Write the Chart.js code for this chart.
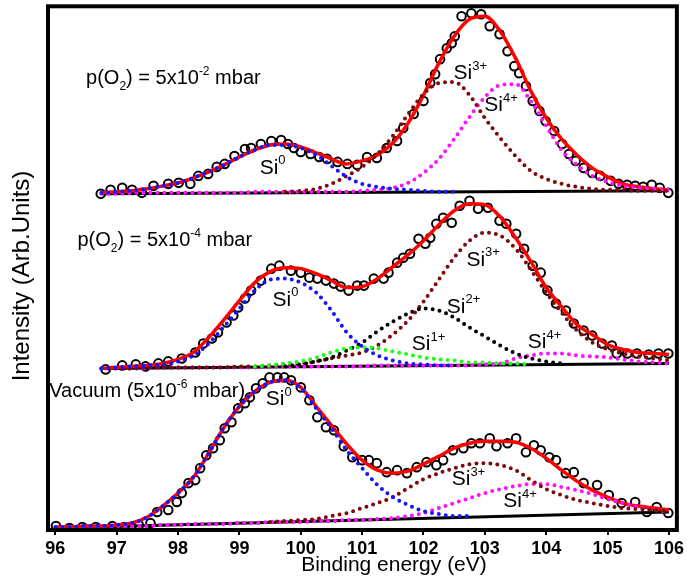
<!DOCTYPE html>
<html>
<head>
<meta charset="utf-8">
<script src="https://cdn.jsdelivr.net/npm/chart.js@4.4.1/dist/chart.umd.min.js"></script>
<style>
  html, body { margin: 0; padding: 0; background: #fff; }
</style>
</head>
<body>
<canvas id="xps" width="687" height="578"></canvas>
<script>
// Si 2p XPS spectra, three oxygen pressures (intensity in arbitrary units, stacked)
const xTicks = [96, 97, 98, 99, 100, 101, 102, 103, 104, 105, 106];

// measured points, p(O2) = 5x10^-2 mbar
const topE = [96.74, 96.90, 97.09, 97.25, 97.41, 97.60, 97.84, 98.01, 98.20, 98.33, 98.49, 98.63, 98.76, 98.92, 99.09, 99.19, 99.35, 99.52, 99.68, 99.79, 99.89, 100.00, 100.16, 100.30, 100.43, 100.60, 100.76, 100.92, 101.08, 101.24, 101.40, 101.57, 101.67, 101.84, 102.00, 102.11, 102.19, 102.27, 102.38, 102.46, 102.51, 102.62, 102.78, 102.94, 103.08, 103.24, 103.37, 103.48, 103.56, 103.67, 103.78, 103.89, 103.99, 104.13, 104.26, 104.37, 104.48, 104.61, 104.75, 104.88, 105.05, 105.18, 105.32, 105.45, 105.58, 105.72, 105.85, 105.99];
const topI = [337, 341, 343, 341, 338, 345, 347, 348, 347, 355, 357, 364, 367, 375, 382, 383, 387, 390, 391, 387, 383, 379, 377, 374, 372, 369, 367, 366, 374, 373, 383, 390, 403, 417, 430, 448, 457, 472, 483, 488, 495, 515, 518, 517, 505, 497, 480, 465, 458, 445, 430, 420, 410, 400, 387, 377, 370, 363, 358, 355, 350, 347, 346, 345, 344, 346, 343, 338];

// measured points, p(O2) = 5x10^-4 mbar
const midE = [96.82, 97.09, 97.31, 97.47, 97.68, 97.84, 98.06, 98.28, 98.41, 98.55, 98.65, 98.79, 98.90, 98.98, 99.09, 99.19, 99.35, 99.52, 99.65, 99.84, 100.00, 100.14, 100.27, 100.41, 100.54, 100.65, 100.78, 100.92, 101.03, 101.19, 101.35, 101.43, 101.57, 101.67, 101.78, 101.92, 102.03, 102.11, 102.21, 102.32, 102.46, 102.59, 102.75, 102.89, 103.05, 103.24, 103.35, 103.51, 103.64, 103.78, 103.91, 104.02, 104.16, 104.32, 104.45, 104.61, 104.75, 104.91, 105.07, 105.15, 105.32, 105.48, 105.67, 105.83, 105.99];
const midI = [161, 165, 166, 164, 167, 169, 172, 178, 187, 192, 198, 208, 215, 223, 232, 240, 250, 262, 265, 260, 258, 253, 252, 250, 247, 244, 240, 245, 245, 252, 252, 258, 268, 273, 277, 292, 287, 293, 307, 313, 308, 325, 330, 322, 323, 310, 307, 297, 282, 265, 258, 240, 227, 220, 207, 200, 195, 187, 185, 177, 177, 177, 176, 177, 177];

// measured points, vacuum (5x10^-6 mbar)
const botE = [96.01, 96.23, 96.44, 96.66, 96.93, 97.12, 97.36, 97.55, 97.66, 97.84, 97.98, 98.06, 98.17, 98.28, 98.36, 98.46, 98.57, 98.68, 98.76, 98.87, 98.98, 99.09, 99.17, 99.27, 99.38, 99.49, 99.62, 99.73, 99.84, 100.00, 100.14, 100.27, 100.41, 100.54, 100.70, 100.84, 101.00, 101.11, 101.24, 101.40, 101.57, 101.73, 101.89, 102.05, 102.21, 102.32, 102.48, 102.65, 102.78, 102.92, 103.08, 103.19, 103.37, 103.51, 103.67, 103.80, 103.91, 104.05, 104.16, 104.32, 104.45, 104.61, 104.83, 105.02, 105.23, 105.45, 105.64, 105.80, 105.99];
const botI = [4, 2, 3, 3, 4, 3, 5, 7, 18, 20, 28, 37, 47, 50, 62, 75, 82, 90, 102, 108, 122, 127, 133, 142, 147, 153, 153, 153, 150, 143, 130, 113, 103, 100, 84, 73, 70, 70, 67, 58, 60, 57, 63, 68, 65, 70, 80, 82, 87, 87, 92, 84, 87, 92, 78, 85, 80, 73, 70, 57, 58, 47, 45, 35, 27, 28, 18, 23, 17];

// fitted curves, all on the same energy grid
const fitE = [96, 96.25, 96.5, 96.75, 97, 97.25, 97.5, 97.75, 98, 98.25, 98.5, 98.75, 99, 99.25, 99.5, 99.75, 100, 100.25, 100.5, 100.75, 101, 101.25, 101.5, 101.75, 102, 102.25, 102.5, 102.75, 103, 103.25, 103.5, 103.75, 104, 104.25, 104.5, 104.75, 105, 105.25, 105.5, 105.75, 106];

const topFit = [null, null, null, 338, 339, 340, 342, 345, 348, 353, 359, 366, 374, 381, 386, 387, 384, 378, 372, 367, 370, 376, 388, 408, 436, 468, 495, 512, 515, 500, 473, 440, 413, 392, 376, 363, 354, 347, 344, 342, 341];
const topSi0 = [null, null, null, 338, 339, 340, 342, 345, 348, 353, 359, 366, 374, 381, 386, 386, 383, 376, 365, 354, 347, 344, 342, 341, 340, 339, 339, null, null, null, null, null, null, null, null, null, null, null, null, null, null];
const topSi3 = [null, null, null, null, null, null, null, null, null, null, null, null, null, null, null, 339, 340, 342, 347, 355, 364, 377, 395, 417, 437, 448, 449, 436, 413, 393, 375, 360, 352, 347, 344, 342, 341, 341, 340, 340, 340];
const topSi4 = [null, null, null, 337, 337, 338, 338, 338, 338, 338, 338, 338, 338, 339, 339, 339, 339, 339, 339, 339, 340, 341, 343, 348, 358, 372, 392, 414, 434, 446, 447, 430, 405, 381, 366, 355, 349, 345, 343, 342, 341];
const topBgE = [96.75, 106];
const topBg = [337, 340];

const midFit = [null, null, null, 162, 163, 164, 165, 167, 171, 178, 193, 211, 230, 248, 259, 263, 262, 257, 250, 243, 244, 252, 264, 276, 290, 306, 320, 327, 326, 314, 293, 269, 243, 224, 206, 196, 186, 181, 178, 177, 176];
const midSi0 = [null, null, null, 162, 163, 164, 165, 166, 169, 175, 187, 204, 222, 240, 251, 252, 248, 238, 220, 198, 184, 175, 170, 167, 166, 165, 165, null, null, null, null, null, null, null, null, null, null, null, null, null, null];
const midSi1 = [null, null, null, null, null, null, null, null, null, null, null, null, null, 164, 165, 167, 169, 173, 178, 182, 183, 182, 179, 176, 173, 171, 170, 168, 168, 167, 167, 166, null, null, null, null, null, null, null, null, null];
const midSi2 = [null, null, null, null, null, null, null, null, null, null, null, null, null, null, null, 164, 166, 169, 173, 180, 188, 199, 209, 217, 222, 220, 213, 203, 194, 185, 177, 172, 169, 167, null, null, null, null, null, null, null];
const midSi3 = [null, null, null, 162, 162, 162, 163, 163, 163, 163, 163, 163, 164, 164, 165, 166, 167, 169, 172, 175, 178, 185, 196, 210, 229, 251, 273, 290, 298, 295, 282, 261, 238, 218, 200, 188, 181, 177, 174, 172, 170];
const midSi4 = [null, null, null, 162, 162, 162, 162, 163, 163, 163, 163, 163, 163, 163, 164, 164, 164, 164, 164, 164, 164, 165, 165, 165, 165, 165, 165, 165, 166, 167, 172, 175, 177, 177, 175, 174, 173, 171, 169, 168, 167];
const midBgE = [96.75, 106];
const midBg = [162, 167];

const botFit = [3, 3, 4, 4, 5, 7, 13, 24, 37, 53, 77, 103, 124, 139, 148, 150, 143, 124, 105, 86, 70, 60, 57, 59, 66, 74, 82, 87, 89, 89, 88, 82, 72, 60, 49, 40, 33, 27, 24, 22, 20];
const botSi0 = [3, 3, 4, 4, 5, 7, 13, 24, 37, 53, 77, 103, 124, 139, 148, 150, 142, 122, 102, 80, 62, 45, 33, 25, 19, 16, 14, 14, null, null, null, null, null, null, null, null, null, null, null, null, null];
const botSi3 = [null, null, null, null, null, null, null, null, null, null, null, null, null, null, 8, 9, 10, 11, 14, 17, 22, 27, 33, 42, 51, 57, 62, 66, 67, 65, 60, 50, 41, 35, 30, 27, 24, 22, 21, 20, 19];
const botSi4 = [2, 2, 3, 3, 4, 4, 4, 5, 5, 6, 6, 6, 7, 7, 8, 8, 8, 9, 9, 10, 10, 11, 12, 14, 17, 22, 27, 32, 37, 41, 44, 46, 46, 43, 40, 36, 31, 27, 23, 20, 18];
const botBgE = [96, 106];
const botBg = [2, 18];

// text on the plot: [energy, intensity, superscript]
const siLabels = [
  [99.33, 357, '0'], [102.49, 452, '3+'], [102.99, 420, '4+'],
  [99.54, 225, '0'], [102.70, 265, '3+'], [102.38, 218, '2+'], [101.81, 180, '1+'], [103.70, 182, '4+'],
  [99.43, 125, '0'], [102.46, 45, '3+'], [103.30, 23, '4+']
];
const condLabels = [
  [96.50, 447, [['p(O', ''], ['2', 'sub'], [') = 5x10', ''], ['-2', 'sup'], [' mbar', '']]],
  [96.36, 285, [['p(O', ''], ['2', 'sub'], [') = 5x10', ''], ['-4', 'sup'], [' mbar', '']]],
  [95.90, 133, [['Vacuum (5x10', ''], ['-6', 'sup'], [' mbar)', '']]]
];

const FONT = '"Liberation Sans", Arial, sans-serif';
const RED = '#ff0000', BLUE = '#1414ff', BROWN = '#7d0a0a', MAGENTA = '#ff10ff', GREEN = '#1aff1a';

function pts(xs, ys) {
  return xs.map((x, i) => ({ x: x, y: ys[i] }));
}

function dotted(ys, color) {
  return {
    data: pts(fitE, ys), showLine: true, borderColor: color, borderWidth: 4,
    borderDash: [0, 7], borderCapStyle: 'round', pointRadius: 0,
    cubicInterpolationMode: 'monotone', order: 0
  };
}
function envelope(ys) {
  return {
    data: pts(fitE, ys), showLine: true, borderColor: RED, borderWidth: 3.5,
    pointRadius: 0, cubicInterpolationMode: 'monotone', order: 1
  };
}
function measured(xs, ys) {
  return {
    data: pts(xs, ys), showLine: false, pointRadius: 4.3, pointBorderWidth: 2,
    pointBorderColor: '#000', pointBackgroundColor: 'rgba(0,0,0,0)', order: 2
  };
}
function background(xs, ys) {
  return {
    data: pts(xs, ys), showLine: true, borderColor: '#000', borderWidth: 3,
    pointRadius: 0, order: 3
  };
}

const datasets = [
  background(topBgE, topBg), measured(topE, topI), envelope(topFit),
  dotted(topSi0, BLUE), dotted(topSi3, BROWN), dotted(topSi4, MAGENTA),
  background(midBgE, midBg), measured(midE, midI), envelope(midFit),
  dotted(midSi0, BLUE), dotted(midSi1, GREEN), dotted(midSi2, '#000'), dotted(midSi3, BROWN), dotted(midSi4, MAGENTA),
  background(botBgE, botBg), measured(botE, botI), envelope(botFit),
  dotted(botSi0, BLUE), dotted(botSi3, BROWN), dotted(botSi4, MAGENTA)
];

function richText(ctx, x, y, parts, size) {
  ctx.textAlign = 'left';
  ctx.textBaseline = 'alphabetic';
  for (const [txt, kind] of parts) {
    const s = kind ? Math.round(size * 0.6) : size;
    ctx.font = s + 'px ' + FONT;
    let dy = 0;
    if (kind === 'sup') dy = -size * 0.45;
    if (kind === 'sub') dy = size * 0.3;
    ctx.fillText(txt, x, y + dy);
    x += ctx.measureText(txt).width;
  }
}

const decorations = {
  id: 'decorations',
  beforeDraw(chart) {
    const ctx = chart.ctx;
    ctx.save();
    ctx.fillStyle = '#fff';
    ctx.fillRect(0, 0, chart.width, chart.height);
    ctx.restore();
  },
  afterDatasetsDraw(chart) {
    const ctx = chart.ctx, a = chart.chartArea;
    const sx = chart.scales.x, sy = chart.scales.y;
    ctx.save();
    ctx.strokeStyle = '#000';
    ctx.lineWidth = 4;
    ctx.strokeRect(a.left, a.top, a.right - a.left, a.bottom - a.top);

    ctx.fillStyle = '#000';
    siLabels.forEach(([e, v, sup]) => {
      richText(ctx, sx.getPixelForValue(e), sy.getPixelForValue(v), [['Si', ''], [sup, 'sup']], 21);
    });
    condLabels.forEach(([e, v, parts]) => {
      richText(ctx, sx.getPixelForValue(e), sy.getPixelForValue(v), parts, 20);
    });

    ctx.font = '21px ' + FONT;
    ctx.textAlign = 'center';
    ctx.textBaseline = 'alphabetic';
    ctx.fillText('Binding energy (eV)', 394, 571);

    ctx.translate(29, 276);
    ctx.rotate(-Math.PI / 2);
    ctx.font = '24px ' + FONT;
    ctx.fillText('Intensity (Arb.Units)', 0, 0);
    ctx.restore();
  }
};

new Chart(document.getElementById('xps'), {
  type: 'scatter',
  data: { datasets: datasets },
  options: {
    responsive: false,
    animation: false,
    devicePixelRatio: 1,
    layout: { padding: { left: 48, right: 6, top: 5, bottom: 0 } },
    plugins: { legend: { display: false }, tooltip: { enabled: false } },
    scales: {
      x: {
        type: 'linear', min: 95.88, max: 106.13,
        afterBuildTicks: (scale) => { scale.ticks = xTicks.map(v => ({ value: v })); },
        afterFit: (scale) => { scale.height = 48; },
        ticks: {
          color: '#000', padding: 3, maxRotation: 0, autoSkip: false,
          font: { family: FONT, size: 18, weight: 'bold' }
        },
        grid: { drawOnChartArea: false, drawTicks: true, tickLength: 5, color: '#000', lineWidth: 2 },
        border: { display: false }
      },
      y: { display: false, min: 0, max: 525 }
    }
  },
  plugins: [decorations]
});
</script>
</body>
</html>
